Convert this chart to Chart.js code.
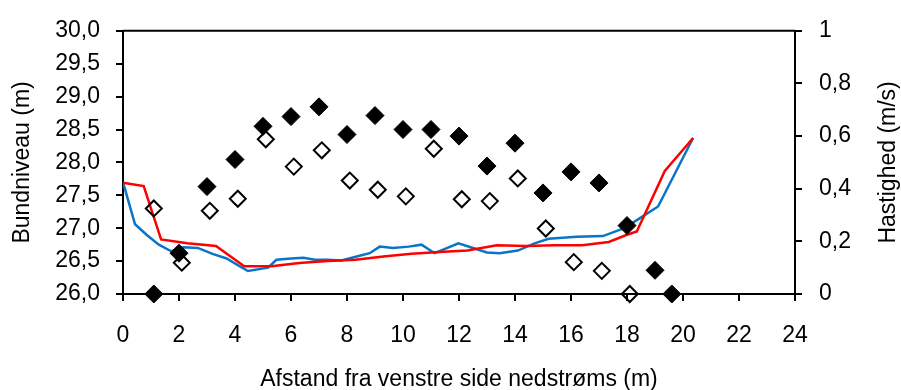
<!DOCTYPE html>
<html>
<head>
<meta charset="utf-8">
<script src="https://cdn.jsdelivr.net/npm/chart.js@4/dist/chart.umd.min.js"></script>
<style>
  body { margin: 0; background: #fff; }
  canvas { display: block; }
</style>
</head>
<body>
<canvas id="profil" width="901" height="390"></canvas>
<script>
// bundniveau langs tværsnittet (blå og rød profil)
const afstandBlaa = [0, 0.43, 0.84, 1.28, 1.72, 2.16, 2.67, 3.2, 3.7, 4.1, 4.46, 5.18, 5.48, 6.0, 6.45, 6.85, 7.3, 7.8, 8.45, 8.81, 9.17, 9.64, 10.2, 10.66, 11.13, 11.98, 12.5, 13.0, 13.45, 14.1, 14.7, 15.2, 16.2, 17.14, 17.9, 18.45, 19.11, 20.36];
const bundBlaa = [27.70, 27.06, 26.90, 26.75, 26.65, 26.71, 26.70, 26.61, 26.54, 26.44, 26.35, 26.40, 26.52, 26.54, 26.55, 26.52, 26.52, 26.51, 26.58, 26.62, 26.72, 26.70, 26.72, 26.75, 26.62, 26.77, 26.70, 26.63, 26.62, 26.66, 26.77, 26.84, 26.87, 26.88, 27.00, 27.15, 27.33, 28.37];

const afstandRoed = [0, 0.74, 1.36, 2.3, 3.32, 4.33, 5.3, 6.3, 7.3, 8.3, 9.3, 10.3, 11.3, 12.3, 13.35, 14.4, 15.4, 16.4, 17.35, 18.0, 18.35, 19.35, 20.36];
const bundRoed = [27.69, 27.64, 26.83, 26.77, 26.73, 26.42, 26.42, 26.47, 26.50, 26.52, 26.57, 26.61, 26.64, 26.66, 26.74, 26.73, 26.74, 26.74, 26.79, 26.90, 26.95, 27.87, 28.37];

// målte hastigheder (højre akse)
const afstandFyldt = [1.1, 2, 3, 4, 5, 6, 7, 8, 9, 10, 11, 12, 13, 14, 15, 16, 17, 18, 19, 19.6];
const hastFyldt = [0, 0.155, 0.408, 0.511, 0.637, 0.674, 0.711, 0.606, 0.678, 0.625, 0.625, 0.600, 0.486, 0.573, 0.384, 0.464, 0.422, 0.26, 0.090, 0];

const afstandAaben = [1.1, 2.1, 3.1, 4.1, 5.1, 6.1, 7.1, 8.1, 9.1, 10.1, 11.1, 12.1, 13.1, 14.1, 15.1, 16.1, 17.1, 18.1];
const hastAaben = [0.325, 0.119, 0.316, 0.362, 0.588, 0.484, 0.546, 0.431, 0.396, 0.371, 0.552, 0.360, 0.353, 0.439, 0.249, 0.121, 0.088, 0];

const punkter = (xs, ys) => xs.map((x, i) => ({ x: x, y: ys[i] }));
const komma = v => String(Math.round(v * 10) / 10).replace('.', ',');

const skrift = { family: "'Liberation Sans', Arial, sans-serif", size: 23 };

// topramme og højre aksetitel (læses nedefra og op)
const ramme = {
  id: 'ramme',
  afterDraw(chart) {
    const { ctx, chartArea: a } = chart;
    ctx.save();
    ctx.strokeStyle = '#000';
    ctx.lineWidth = 2;
    ctx.beginPath();
    ctx.moveTo(a.left, a.top);
    ctx.lineTo(a.right, a.top);
    ctx.stroke();

    ctx.translate(889, (a.top + a.bottom) / 2);
    ctx.rotate(-Math.PI / 2);
    ctx.fillStyle = '#000';
    ctx.font = `${skrift.size}px ${skrift.family}`;
    ctx.textAlign = 'center';
    ctx.textBaseline = 'middle';
    ctx.fillText('Hastighed (m/s)', 0, 0);
    ctx.restore();
  }
};

const akse = {
  grid: { drawOnChartArea: false, tickLength: 7, color: '#000', lineWidth: 2 },
  border: { color: '#000', width: 2 }
};

new Chart(document.getElementById('profil'), {
  type: 'scatter',
  data: {
    datasets: [
      {
        data: punkter(afstandFyldt, hastFyldt),
        yAxisID: 'y1',
        pointStyle: 'rectRot',
        pointRadius: 9,
        backgroundColor: '#000',
        borderColor: '#000',
        borderWidth: 1,
        clip: false,
        order: 0
      },
      {
        data: punkter(afstandAaben, hastAaben),
        yAxisID: 'y1',
        pointStyle: 'rectRot',
        pointRadius: 8,
        backgroundColor: 'rgba(0,0,0,0)',
        borderColor: '#000',
        borderWidth: 2,
        clip: false,
        order: 1
      },
      {
        data: punkter(afstandRoed, bundRoed),
        yAxisID: 'y',
        showLine: true,
        pointRadius: 0,
        borderColor: '#ff0000',
        borderWidth: 2.5,
        order: 2
      },
      {
        data: punkter(afstandBlaa, bundBlaa),
        yAxisID: 'y',
        showLine: true,
        pointRadius: 0,
        borderColor: '#0a74c8',
        borderWidth: 2.5,
        order: 3
      }
    ]
  },
  options: {
    responsive: false,
    animation: false,
    events: [],
    layout: { padding: { top: 25, left: 0, right: 0, bottom: 0 } },
    plugins: { legend: { display: false }, tooltip: { enabled: false } },
    scales: {
      x: {
        type: 'linear',
        position: 'bottom',
        min: 0,
        max: 24,
        ...akse,
        ticks: { stepSize: 2, padding: 21, color: '#000', font: skrift, maxRotation: 0 },
        title: { display: true, text: 'Afstand fra venstre side nedstrøms (m)', color: '#000', font: skrift, padding: { top: 0, bottom: -3 } },
        afterFit(s) { s.height = 96; }
      },
      y: {
        position: 'left',
        min: 26,
        max: 30,
        ...akse,
        ticks: { stepSize: 0.5, padding: 16, color: '#000', font: skrift, callback: v => Number(v).toFixed(1).replace('.', ',') },
        title: { display: true, text: 'Bundniveau (m)', color: '#000', font: skrift, padding: { top: 9, bottom: 0 } },
        afterFit(s) { s.width = 123; }
      },
      y1: {
        position: 'right',
        min: 0,
        max: 1,
        ...akse,
        ticks: { stepSize: 0.2, padding: 17, color: '#000', font: skrift, callback: v => komma(v) },
        afterFit(s) { s.width = 106; }
      }
    }
  },
  plugins: [ramme]
});
</script>
</body>
</html>
